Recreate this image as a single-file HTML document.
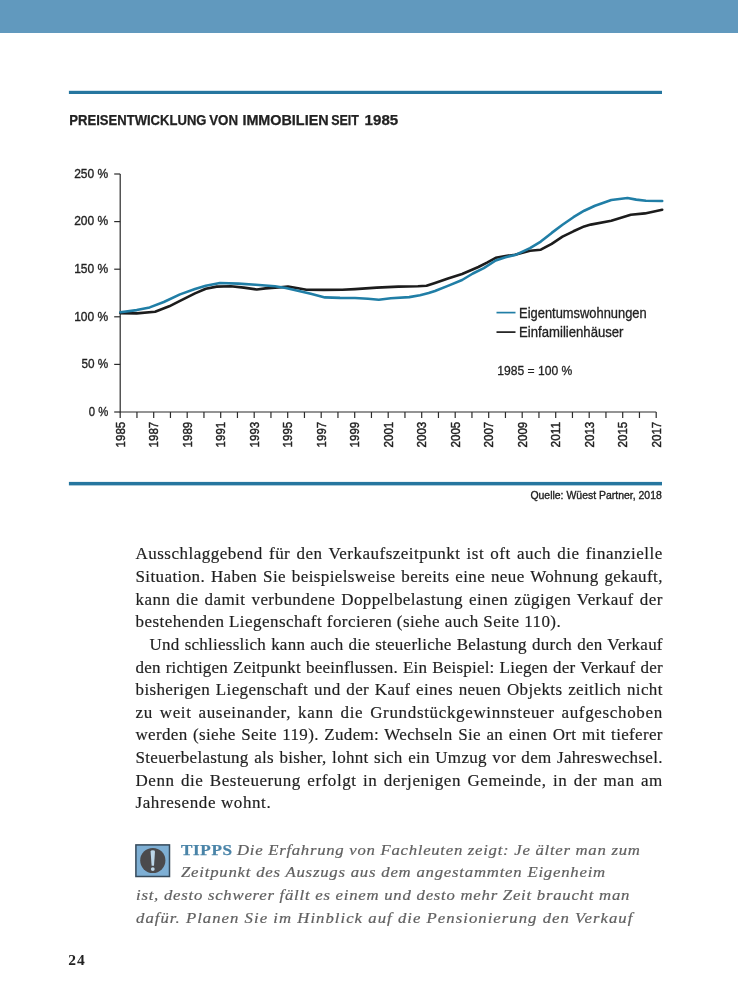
<!DOCTYPE html>
<html lang="de">
<head>
<meta charset="utf-8">
<title>Preisentwicklung von Immobilien seit 1985</title>
<style>
html,body{margin:0;padding:0;background:#fff;}
body{width:738px;height:1000px;position:relative;overflow:hidden;font-family:"Liberation Serif",serif;color:#222;}
.topbar{position:absolute;left:0;top:0;width:738px;height:33px;background:#6199be;}
.chart{position:absolute;left:0;top:0;}
.body{position:absolute;left:135.5px;top:543.3px;width:527.3px;font-size:17px;letter-spacing:0.42px;color:#1f1f1f;-webkit-text-stroke:0.18px #1f1f1f;}
.l{height:22.65px;line-height:22.65px;white-space:nowrap;text-align:left;}
.l.i{padding-left:14px;}
.tip{position:absolute;font-style:italic;font-size:15.5px;line-height:22.6px;white-space:nowrap;color:#606060;-webkit-text-stroke:0.2px #606060;}
.tip.tb{font-style:normal;font-weight:bold;color:#4a84a8;font-size:14.5px;-webkit-text-stroke:0.25px #4a84a8;}
.icon{position:absolute;left:135px;top:843.5px;}
.pageno{position:absolute;left:68.2px;top:950.2px;font-weight:bold;font-size:15.5px;line-height:20px;letter-spacing:1.1px;color:#222;}
</style>
</head>
<body>
<div class="topbar"></div>
<svg class="chart" width="738" height="1000" viewBox="0 0 738 1000">
<rect x="68.9" y="90.8" width="593.1" height="3.2" fill="#26769f"/>
<rect x="68.9" y="481.9" width="593.1" height="3.5" fill="#26769f"/>
<g stroke="#2b2b2b" stroke-width="1.2" fill="none">
<path d="M120.2,174.0 V412.0 H656.2"/>
<path d="M114.2,412.00 H120.2"/>
<path d="M114.2,364.40 H120.2"/>
<path d="M114.2,316.80 H120.2"/>
<path d="M114.2,269.20 H120.2"/>
<path d="M114.2,221.60 H120.2"/>
<path d="M114.2,174.00 H120.2"/>
<path d="M120.20,412.0 V418.0"/>
<path d="M136.95,412.0 V418.0"/>
<path d="M153.70,412.0 V418.0"/>
<path d="M170.45,412.0 V418.0"/>
<path d="M187.20,412.0 V418.0"/>
<path d="M203.95,412.0 V418.0"/>
<path d="M220.70,412.0 V418.0"/>
<path d="M237.45,412.0 V418.0"/>
<path d="M254.20,412.0 V418.0"/>
<path d="M270.95,412.0 V418.0"/>
<path d="M287.70,412.0 V418.0"/>
<path d="M304.45,412.0 V418.0"/>
<path d="M321.20,412.0 V418.0"/>
<path d="M337.95,412.0 V418.0"/>
<path d="M354.70,412.0 V418.0"/>
<path d="M371.45,412.0 V418.0"/>
<path d="M388.20,412.0 V418.0"/>
<path d="M404.95,412.0 V418.0"/>
<path d="M421.70,412.0 V418.0"/>
<path d="M438.45,412.0 V418.0"/>
<path d="M455.20,412.0 V418.0"/>
<path d="M471.95,412.0 V418.0"/>
<path d="M488.70,412.0 V418.0"/>
<path d="M505.45,412.0 V418.0"/>
<path d="M522.20,412.0 V418.0"/>
<path d="M538.95,412.0 V418.0"/>
<path d="M555.70,412.0 V418.0"/>
<path d="M572.45,412.0 V418.0"/>
<path d="M589.20,412.0 V418.0"/>
<path d="M605.95,412.0 V418.0"/>
<path d="M622.70,412.0 V418.0"/>
<path d="M639.45,412.0 V418.0"/>
<path d="M656.20,412.0 V418.0"/>
</g>
<g font-family="'Liberation Sans', sans-serif" font-size="13.2" fill="#222" stroke="#222" stroke-width="0.35" text-anchor="end">
<text x="108.3" y="415.8" textLength="19.5" lengthAdjust="spacingAndGlyphs">0 %</text>
<text x="108.3" y="368.1" textLength="26.8" lengthAdjust="spacingAndGlyphs">50 %</text>
<text x="108.3" y="320.6" textLength="34.1" lengthAdjust="spacingAndGlyphs">100 %</text>
<text x="108.3" y="272.9" textLength="34.1" lengthAdjust="spacingAndGlyphs">150 %</text>
<text x="108.3" y="225.3" textLength="34.1" lengthAdjust="spacingAndGlyphs">200 %</text>
<text x="108.3" y="177.8" textLength="34.1" lengthAdjust="spacingAndGlyphs">250 %</text>
</g>
<g font-family="'Liberation Sans', sans-serif" font-size="12.5" fill="#222" stroke="#222" stroke-width="0.45">
<text transform="translate(124.7,447.4) rotate(-90)" textLength="25.6" lengthAdjust="spacingAndGlyphs">1985</text>
<text transform="translate(158.2,447.4) rotate(-90)" textLength="25.6" lengthAdjust="spacingAndGlyphs">1987</text>
<text transform="translate(191.7,447.4) rotate(-90)" textLength="25.6" lengthAdjust="spacingAndGlyphs">1989</text>
<text transform="translate(225.2,447.4) rotate(-90)" textLength="25.6" lengthAdjust="spacingAndGlyphs">1991</text>
<text transform="translate(258.7,447.4) rotate(-90)" textLength="25.6" lengthAdjust="spacingAndGlyphs">1993</text>
<text transform="translate(292.2,447.4) rotate(-90)" textLength="25.6" lengthAdjust="spacingAndGlyphs">1995</text>
<text transform="translate(325.7,447.4) rotate(-90)" textLength="25.6" lengthAdjust="spacingAndGlyphs">1997</text>
<text transform="translate(359.2,447.4) rotate(-90)" textLength="25.6" lengthAdjust="spacingAndGlyphs">1999</text>
<text transform="translate(392.7,447.4) rotate(-90)" textLength="25.6" lengthAdjust="spacingAndGlyphs">2001</text>
<text transform="translate(426.2,447.4) rotate(-90)" textLength="25.6" lengthAdjust="spacingAndGlyphs">2003</text>
<text transform="translate(459.7,447.4) rotate(-90)" textLength="25.6" lengthAdjust="spacingAndGlyphs">2005</text>
<text transform="translate(493.2,447.4) rotate(-90)" textLength="25.6" lengthAdjust="spacingAndGlyphs">2007</text>
<text transform="translate(526.7,447.4) rotate(-90)" textLength="25.6" lengthAdjust="spacingAndGlyphs">2009</text>
<text transform="translate(560.2,447.4) rotate(-90)" textLength="25.6" lengthAdjust="spacingAndGlyphs">2011</text>
<text transform="translate(593.7,447.4) rotate(-90)" textLength="25.6" lengthAdjust="spacingAndGlyphs">2013</text>
<text transform="translate(627.2,447.4) rotate(-90)" textLength="25.6" lengthAdjust="spacingAndGlyphs">2015</text>
<text transform="translate(660.7,447.4) rotate(-90)" textLength="25.6" lengthAdjust="spacingAndGlyphs">2017</text>
</g>
<polyline points="120.4,313.1 136.7,313.4 155.1,311.7 169.2,306.3 180.0,300.9 195.0,293.4 205.8,288.7 216.7,286.6 230.8,286.3 243.8,287.6 256.8,289.5 265.5,288.4 275.0,287.8 288.0,286.6 296.7,288.0 306.4,289.8 323.8,289.9 342.2,289.8 355.0,289.1 376.7,287.6 398.4,286.6 417.9,286.2 426.5,285.8 435.0,283.0 448.0,278.4 462.1,274.0 478.4,267.0 487.0,262.6 495.7,257.8 505.5,256.1 515.0,254.7 530.0,250.8 540.8,249.7 551.7,243.8 562.5,236.7 573.4,231.3 584.2,226.4 590.7,224.6 611.3,220.8 630.8,214.8 644.9,213.4 662.2,209.7" fill="none" stroke="#1c1c1c" stroke-width="2.6" stroke-linejoin="round" stroke-linecap="round"/>
<polyline points="120.4,312.3 136.7,310.1 149.7,307.4 163.8,302.0 180.0,294.4 195.0,289.0 205.8,285.7 219.9,283.0 238.4,283.6 255.7,284.7 275.0,286.2 285.8,288.0 296.7,290.4 310.8,293.8 324.9,297.4 340.0,297.9 355.0,298.0 368.0,298.8 378.8,299.7 390.8,298.2 409.2,297.1 420.0,295.2 428.7,293.1 435.0,291.0 449.1,285.4 462.1,280.0 472.9,273.5 483.8,268.1 495.7,260.5 505.5,257.2 515.0,255.1 530.0,248.1 540.8,241.6 551.7,232.9 562.5,224.8 573.4,217.2 584.2,210.7 595.0,205.7 611.3,200.0 627.5,198.0 636.2,199.6 645.9,200.7 662.2,201.0" fill="none" stroke="#207ea6" stroke-width="2.6" stroke-linejoin="round" stroke-linecap="round"/>
<path d="M496.5,312.6 H515.5" stroke="#207ea6" stroke-width="1.7"/>
<path d="M496.5,332.1 H515.5" stroke="#1c1c1c" stroke-width="1.7"/>
<g font-family="'Liberation Sans', sans-serif" font-size="14" fill="#222" stroke="#222" stroke-width="0.3">
<text x="519.1" y="317.8" textLength="127.6" lengthAdjust="spacingAndGlyphs">Eigentumswohnungen</text>
<text x="519.1" y="337.0" textLength="104.4" lengthAdjust="spacingAndGlyphs">Einfamilienhäuser</text>
<text x="497.2" y="375.1" font-size="13.5" textLength="75.1" lengthAdjust="spacingAndGlyphs">1985 = 100 %</text>
</g>
<g font-family="'Liberation Sans', sans-serif" font-size="14.2" font-weight="bold" fill="#222" stroke="#222" stroke-width="0.25">
<text x="69.3" y="125.2" textLength="137.2" lengthAdjust="spacingAndGlyphs">PREISENTWICKLUNG</text>
<text x="209.2" y="125.2" textLength="28.9" lengthAdjust="spacingAndGlyphs">VON</text>
<text x="242.4" y="125.2" textLength="86.2" lengthAdjust="spacingAndGlyphs">IMMOBILIEN</text>
<text x="331.2" y="125.2" textLength="27.8" lengthAdjust="spacingAndGlyphs">SEIT</text>
<text x="364.6" y="125.2" textLength="33.6" lengthAdjust="spacingAndGlyphs">1985</text>
</g>
<text x="530.4" y="499.3" font-family="'Liberation Sans', sans-serif" font-size="10.8" fill="#222" stroke="#222" stroke-width="0.35" textLength="131.4" lengthAdjust="spacingAndGlyphs">Quelle: Wüest Partner, 2018</text>
</svg>
<div class="body">
<div class="l " style="letter-spacing:0.490px;word-spacing:1.471px">Ausschlaggebend für den Verkaufszeitpunkt ist oft auch die finanzielle</div>
<div class="l " style="letter-spacing:0.394px;word-spacing:1.182px">Situation. Haben Sie beispielsweise bereits eine neue Wohnung gekauft,</div>
<div class="l " style="letter-spacing:0.444px;word-spacing:1.333px">kann die damit verbundene Doppelbelastung einen zügigen Verkauf der</div>
<div class="l " style="letter-spacing:0.44px">bestehenden Liegenschaft forcieren (siehe auch Seite 110).</div>
<div class="l i" style="letter-spacing:0.238px;word-spacing:0.715px">Und schliesslich kann auch die steuerliche Belastung durch den Verkauf</div>
<div class="l " style="letter-spacing:0.204px;word-spacing:0.612px">den richtigen Zeitpunkt beeinflussen. Ein Beispiel: Liegen der Verkauf der</div>
<div class="l " style="letter-spacing:0.376px;word-spacing:1.127px">bisherigen Liegenschaft und der Kauf eines neuen Objekts zeitlich nicht</div>
<div class="l " style="letter-spacing:0.657px;word-spacing:1.970px">zu weit auseinander, kann die Grundstückgewinnsteuer aufgeschoben</div>
<div class="l " style="letter-spacing:0.326px;word-spacing:0.979px">werden (siehe Seite 119). Zudem: Wechseln Sie an einen Ort mit tieferer</div>
<div class="l " style="letter-spacing:0.305px;word-spacing:0.915px">Steuerbelastung als bisher, lohnt sich ein Umzug vor dem Jahreswechsel.</div>
<div class="l " style="letter-spacing:0.551px;word-spacing:1.652px">Denn die Besteuerung erfolgt in derjenigen Gemeinde, in der man am</div>
<div class="l " style="letter-spacing:0.6px">Jahresende wohnt.</div>
</div>
<svg class="icon" width="36" height="34" viewBox="0 0 36 34">
<rect x="0.9" y="0.9" width="33.6" height="31.6" fill="#7eafd4" stroke="#35495a" stroke-width="1.5"/>
<circle cx="17.8" cy="16.5" r="12.6" fill="#4b4a4c"/>
<path d="M15.6,7.4 Q15.6,6.2 17.8,6.2 Q20,6.2 20,7.4 L19,21.8 H16.6 Z" fill="#bdd6e8"/>
<circle cx="17.8" cy="25.1" r="1.9" fill="#bdd6e8"/>
</svg>
<div class="tip tb" style="left:181.2px;top:838.9px;letter-spacing:0.532px;transform:scaleX(1.18);transform-origin:0 0">TIPPS</div>
<div class="tip" style="left:236.5px;top:838.9px;letter-spacing:0.662px;transform:scaleX(1.08);transform-origin:0 0">Die Erfahrung von Fachleuten zeigt: Je älter man zum</div>
<div class="tip" style="left:180.9px;top:861.4px;letter-spacing:0.717px;transform:scaleX(1.08);transform-origin:0 0">Zeitpunkt des Auszugs aus dem angestammten Eigenheim</div>
<div class="tip" style="left:135.5px;top:884.0px;letter-spacing:0.692px;transform:scaleX(1.08);transform-origin:0 0">ist, desto schwerer fällt es einem und desto mehr Zeit braucht man</div>
<div class="tip" style="left:135.5px;top:906.5px;letter-spacing:0.941px;transform:scaleX(1.08);transform-origin:0 0">dafür. Planen Sie im Hinblick auf die Pensionierung den Verkauf</div>

<div class="pageno">24</div>
</body>
</html>
